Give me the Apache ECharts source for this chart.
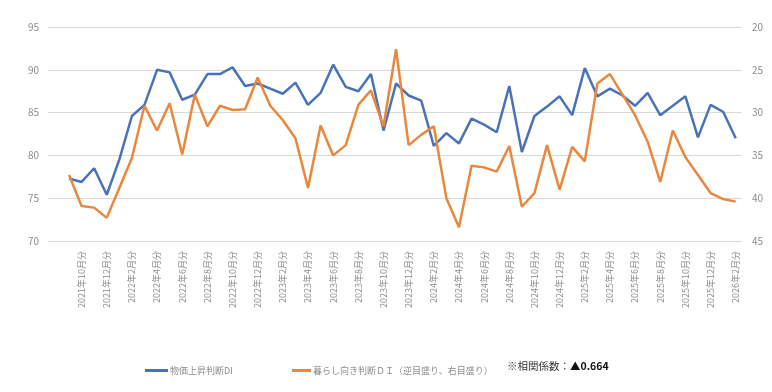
<!DOCTYPE html>
<html>
<head>
<meta charset="utf-8">
<script src="https://cdn.jsdelivr.net/npm/echarts@6/dist/echarts.min.js"></script>
<style>html,body{margin:0;padding:0;background:#fff}#c{width:772px;height:392px}</style>
</head>
<body>
<div id="c"></div>
<script>
const months = [
  '2021年9月分','2021年10月分','2021年11月分','2021年12月分',
  '2022年1月分','2022年2月分','2022年3月分','2022年4月分','2022年5月分','2022年6月分','2022年7月分','2022年8月分','2022年9月分','2022年10月分','2022年11月分','2022年12月分',
  '2023年1月分','2023年2月分','2023年3月分','2023年4月分','2023年5月分','2023年6月分','2023年7月分','2023年8月分','2023年9月分','2023年10月分','2023年11月分','2023年12月分',
  '2024年1月分','2024年2月分','2024年3月分','2024年4月分','2024年5月分','2024年6月分','2024年7月分','2024年8月分','2024年9月分','2024年10月分','2024年11月分','2024年12月分',
  '2025年1月分','2025年2月分','2025年3月分','2025年4月分','2025年5月分','2025年6月分','2025年7月分','2025年8月分','2025年9月分','2025年10月分','2025年11月分','2025年12月分',
  '2026年1月分','2026年2月分'
];
const priceDI = [
  77.3,76.9,78.5,75.4,79.5,84.6,85.9,90.0,89.7,86.5,87.1,89.5,89.5,90.3,88.1,88.4,
  87.8,87.2,88.5,85.9,87.3,90.6,88.0,87.5,89.5,82.9,88.4,87.0,
  86.4,81.1,82.6,81.4,84.3,83.6,82.7,88.1,80.4,84.6,85.7,86.9,
  84.7,90.2,86.9,87.8,87.0,85.8,87.3,84.7,85.8,86.9,82.1,85.9,85.1,82.0
];
const livingDI = [
  37.3,40.9,41.1,42.3,38.8,35.3,29.2,32.1,28.9,34.9,27.9,31.6,29.2,29.7,29.6,25.9,
  29.2,30.9,33.0,38.8,31.5,35.0,33.8,29.1,27.4,31.6,22.6,33.8,
  32.6,31.6,40.0,43.4,36.2,36.4,36.9,33.9,41.0,39.4,33.8,39.0,
  34.0,35.7,26.6,25.5,27.9,30.3,33.4,38.1,32.1,35.2,37.3,39.4,40.1,40.4
];
const labelIdx = months.map((m, i) => i).filter(i => i % 2 === 1);
const leftTicks = [70, 95, 5];
const rightTicks = [20, 45, 5];
const seriesNames = ['物価上昇判断DI', '暮らし向き判断ＤＩ（逆目盛り、右目盛り）'];

const font = '"Noto Sans CJK JP", "Noto Sans", sans-serif';
const chart = echarts.init(document.getElementById('c'));
chart.setOption({
  animation: false,
  backgroundColor: '#fff',
  textStyle: { fontFamily: font },
  grid: { left: 48, right: 30, top: 27, bottom: 151 },
  xAxis: {
    type: 'value',
    min: -1.67,
    max: 53.5,
    axisLine: { show: false },
    axisTick: { show: false },
    splitLine: { show: false },
    axisLabel: {
      customValues: labelIdx,
      rotate: 90,
      margin: 10,
      fontSize: 9,
      color: '#8c8c8c',
      fontFamily: font,
      formatter: v => months[Math.round(v)] || ''
    }
  },
  yAxis: [
    {
      type: 'value', min: leftTicks[0], max: leftTicks[1], interval: leftTicks[2],
      axisLine: { show: false }, axisTick: { show: false },
      axisLabel: { margin: 9, fontSize: 10, color: '#8c8c8c', fontFamily: font },
      splitLine: { lineStyle: { color: '#d9d9d9', width: 1 } }
    },
    {
      type: 'value', min: rightTicks[0], max: rightTicks[1], interval: rightTicks[2], inverse: true,
      axisLine: { show: false }, axisTick: { show: false },
      axisLabel: { margin: 10, fontSize: 10, color: '#8c8c8c', fontFamily: font },
      splitLine: { show: false }
    }
  ],
  legend: [
    {
      data: [seriesNames[0]], left: 140, top: 361, icon: 'rect', itemWidth: 23, itemHeight: 3,
      textStyle: { fontSize: 9, color: '#8c8c8c', fontFamily: font, padding: [0, 0, 0, -3] }
    },
    {
      data: [seriesNames[1]], left: 287, top: 361, icon: 'rect', itemWidth: 19, itemHeight: 3,
      textStyle: { fontSize: 9, color: '#8c8c8c', fontFamily: font, padding: [0, 0, 0, -3] }
    }
  ],
  graphic: [{
    type: 'text', left: 507, top: 361,
    style: {
      text: '{a|※相関係数：}{b|▲0.664}',
      rich: {
        a: { fontSize: 10.5, fill: '#333', fontFamily: font },
        b: { fontSize: 10.5, fill: '#111', fontWeight: 'bold', fontFamily: font }
      }
    }
  }],
  series: [
    {
      name: seriesNames[0], type: 'line', yAxisIndex: 0, symbol: 'none',
      data: priceDI.map((v, i) => [i, v]),
      lineStyle: { color: '#4a72b8', width: 2.5 }, itemStyle: { color: '#4a72b8' }
    },
    {
      name: seriesNames[1], type: 'line', yAxisIndex: 1, symbol: 'none',
      data: livingDI.map((v, i) => [i, v]),
      lineStyle: { color: '#e9873c', width: 2.5 }, itemStyle: { color: '#e9873c' }
    }
  ]
});
</script>
</body>
</html>
